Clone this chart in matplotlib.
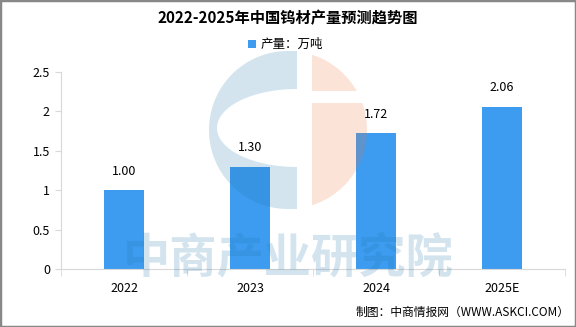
import numpy as np
import matplotlib.pyplot as plt
from matplotlib.patches import Rectangle, Polygon

plt.rcParams['font.family'] = ['Noto Sans CJK SC', 'DejaVu Sans']

# data
years = ['2022', '2023', '2024', '2025E']
output = [1.00, 1.30, 1.72, 2.06]
yticks = [0, 0.5, 1, 1.5, 2, 2.5]
ytick_labels = ['0', '0.5', '1', '1.5', '2', '2.5']

W, H = 576, 327
fig = plt.figure(figsize=(W / 100, H / 100), dpi=100)
ax = fig.add_axes([61 / W, 1 - 269 / H, 504 / W, 197 / H])

x = np.arange(len(years))
ax.bar(x, output, width=0.32, color='#3d9cf0', zorder=2)
for xi, v in zip(x, output):
    ax.annotate(f'{v:.2f}', (xi, v), xytext=(0, 9), textcoords='offset points',
                ha='center', va='bottom', fontsize=9, color='#000000')

ax.set_xlim(-0.5, len(years) - 0.5)
ax.set_ylim(0, 2.5)
ax.set_yticks(yticks)
ax.set_yticklabels(ytick_labels)
ax.set_xticks(x)
ax.set_xticklabels(years)
ax.set_xticks(np.arange(-0.5, len(years)), minor=True)
ax.tick_params(axis='x', which='major', length=0, pad=9, labelsize=9)
ax.tick_params(axis='x', which='minor', length=5, color='#d9d9d9', direction='out')
ax.tick_params(axis='y', length=4, color='#d9d9d9', labelsize=9, pad=4)
for side in ['top', 'right']:
    ax.spines[side].set_visible(False)
ax.spines['left'].set_color('#d9d9d9')
ax.spines['bottom'].set_color('#d9d9d9')

# watermark overlay, drawn in pixel coordinates
ov = fig.add_axes([0, 0, 1, 1], zorder=5)
ov.set_xlim(0, W)
ov.set_ylim(H, 0)
ov.axis('off')
ov.patch.set_alpha(0)

blue_wm = (35 / 255, 120 / 255, 170 / 255)
peach_wm = (235 / 255, 115 / 255, 60 / 255)
cx, cy, r = 288, 130, 79

# left "C" ring: half disc minus an inner ellipse
th = np.linspace(np.pi / 2, 3 * np.pi / 2, 80)
xs_out = np.minimum(cx + r * np.cos(th), 297)
ys_out = cy - r * np.sin(th)
th2 = np.linspace(3 * np.pi / 2, np.pi / 2, 80)
xs_in = 297 + 80 * np.cos(th2)
ys_in = 128 - 39 * np.sin(th2)
mask = xs_in <= 297
verts = list(zip(xs_out, ys_out))
verts += [(297, ys_out[-1]), (297, 167)]
verts += list(zip(xs_in[mask], ys_in[mask]))
verts += [(297, 89), (297, ys_out[0])]
ov.add_patch(Polygon(verts, closed=True, facecolor=blue_wm, alpha=0.2, lw=0))


# right peach part, split by a horizontal gap
def right_part(y0, y1):
    ys = np.linspace(y0, y1, 60)
    xr = cx + np.sqrt(np.clip(r**2 - (ys - cy)**2, 0, None))
    return [(312, y0)] + list(zip(xr, ys)) + [(312, y1)]


dy = np.sqrt(r**2 - (312 - cx)**2)
ov.add_patch(Polygon(right_part(cy - dy, 91), closed=True, facecolor=peach_wm, alpha=0.2, lw=0))
ov.add_patch(Polygon(right_part(103, cy + dy), closed=True, facecolor=peach_wm, alpha=0.2, lw=0))

ov.text(288, 258, '中商产业研究院', ha='center', va='center', fontsize=34,
        fontweight='bold', color=blue_wm, alpha=0.2)

# titles and notes
fig.text(0.5, 1 - 18 / H, '2022-2025年中国钨材产量预测趋势图', ha='center', va='center',
         fontsize=11, fontweight='bold')
fig.patches.append(Rectangle((248 / W, 1 - 48 / H), 8 / W, 8 / H, transform=fig.transFigure,
                             facecolor='#3d9cf0', edgecolor='none'))
fig.text(261 / W, 1 - 44 / H, '产量：万吨', ha='left', va='center', fontsize=9)
fig.text(570 / W, 1 - 312 / H, '制图：中商情报网（WWW.ASKCI.COM）', ha='right', va='center',
         fontsize=8.5)

# frame around the image
fig.patches.append(Rectangle((0, 0), 1, 1, transform=fig.transFigure, facecolor='none',
                             edgecolor='#888888', lw=2.5))

fig.savefig('out.png', dpi=100)
